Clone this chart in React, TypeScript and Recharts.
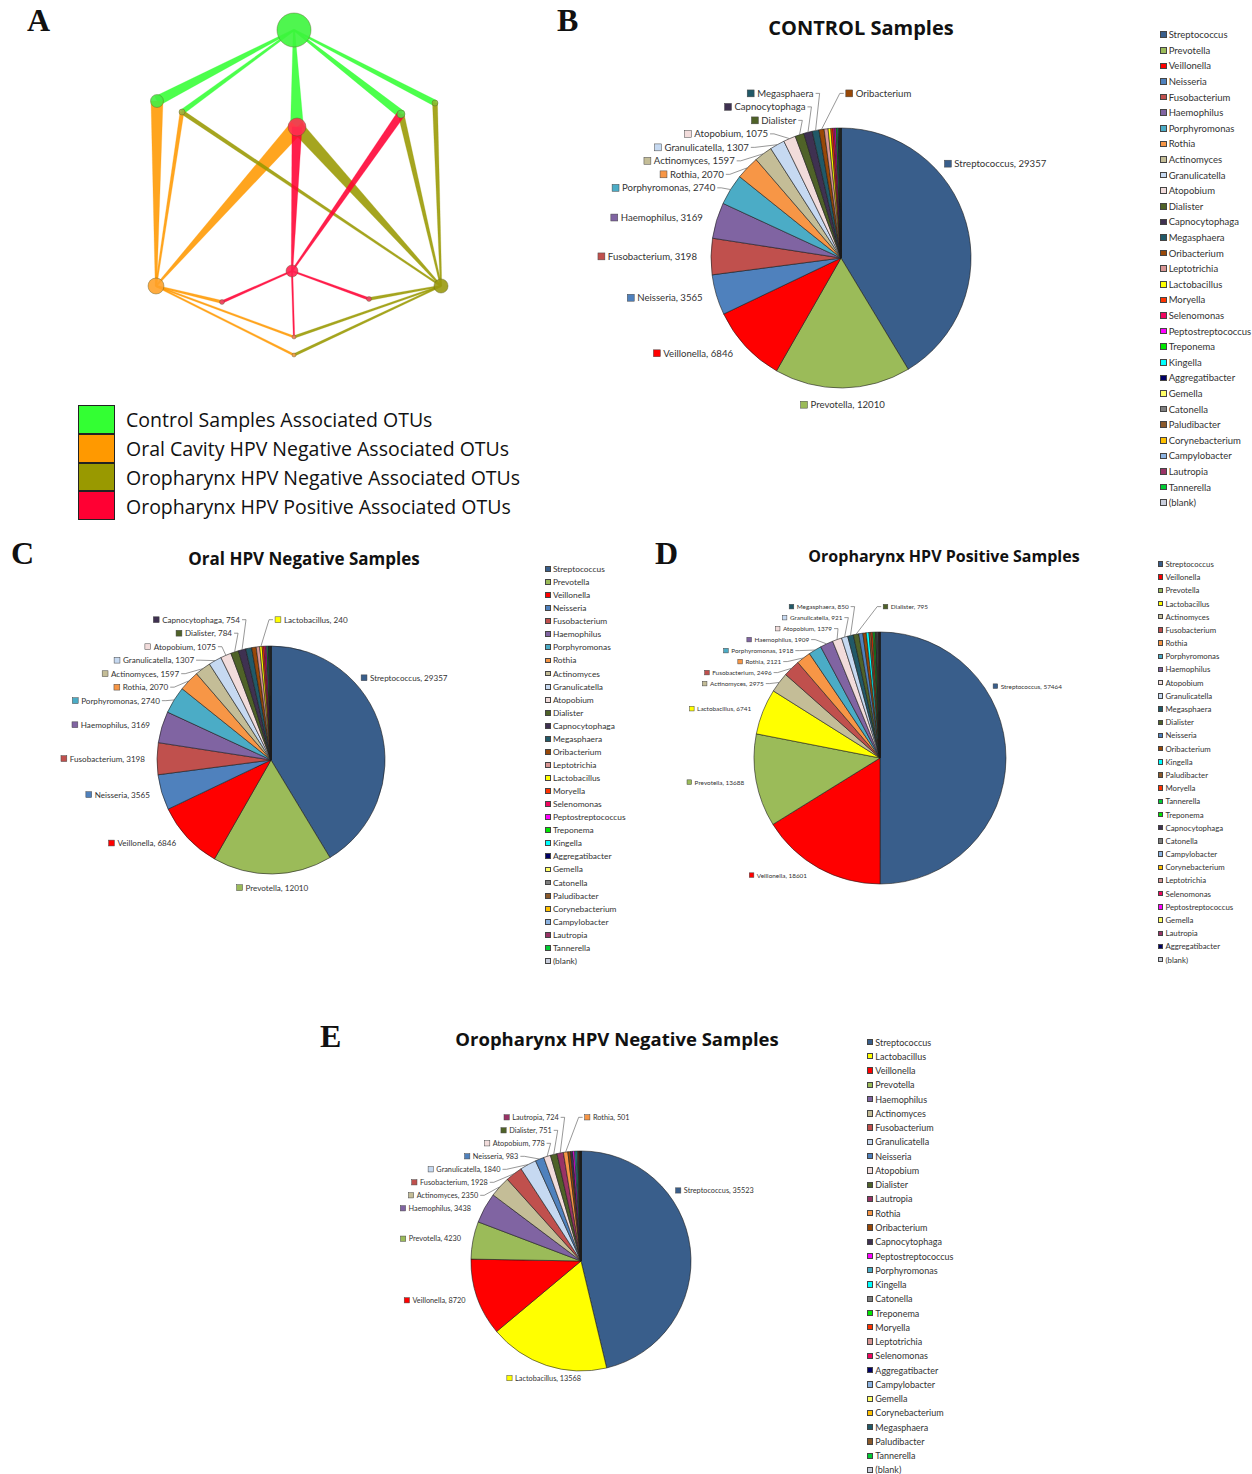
import React from "react";
import {
  PieChart,
  Pie,
  Cell,
  Legend,
  ScatterChart,
  Scatter,
  XAxis,
  YAxis,
  ReferenceLine,
} from "recharts";

// ---------------- pie data ----------------
const controlGenera = [
  "Streptococcus", "Prevotella", "Veillonella", "Neisseria", "Fusobacterium",
  "Haemophilus", "Porphyromonas", "Rothia", "Actinomyces", "Granulicatella",
  "Atopobium", "Dialister", "Capnocytophaga", "Megasphaera", "Oribacterium",
  "Leptotrichia", "Lactobacillus", "Moryella", "Selenomonas", "Peptostreptococcus",
  "Treponema", "Kingella", "Aggregatibacter", "Gemella", "Catonella",
  "Paludibacter", "Corynebacterium", "Campylobacter", "Lautropia", "Tannerella",
  "(blank)",
];
const controlCounts = [
  29357, 12010, 6846, 3565, 3198, 3169, 2740, 2070, 1597, 1307, 1075, 784, 754,
  600, 450, 350, 240, 180, 150, 120, 100, 80, 60, 50, 40, 30, 25, 20, 15, 10, 5,
];
const controlLabelled = [
  "Streptococcus", "Prevotella", "Veillonella", "Neisseria", "Fusobacterium",
  "Haemophilus", "Porphyromonas", "Rothia", "Actinomyces", "Granulicatella",
  "Atopobium", "Dialister", "Capnocytophaga", "Megasphaera", "Oribacterium",
];
const controlNameOnly = ["Dialister", "Capnocytophaga", "Megasphaera", "Oribacterium"];

const oralNegGenera = controlGenera;
const oralNegCounts = [
  29357, 12010, 6846, 3565, 3198, 3169, 2740, 2070, 1597, 1307, 1075, 784, 754,
  600, 450, 350, 240, 180, 150, 120, 100, 80, 60, 50, 40, 30, 25, 20, 15, 10, 5,
];
const oralNegLabelled = [
  "Streptococcus", "Prevotella", "Veillonella", "Neisseria", "Fusobacterium",
  "Haemophilus", "Porphyromonas", "Rothia", "Actinomyces", "Granulicatella",
  "Atopobium", "Dialister", "Capnocytophaga", "Lactobacillus",
];

const oroPosGenera = [
  "Streptococcus", "Veillonella", "Prevotella", "Lactobacillus", "Actinomyces",
  "Fusobacterium", "Rothia", "Porphyromonas", "Haemophilus", "Atopobium",
  "Granulicatella", "Megasphaera", "Dialister", "Neisseria", "Oribacterium",
  "Kingella", "Paludibacter", "Moryella", "Tannerella", "Treponema",
  "Capnocytophaga", "Catonella", "Campylobacter", "Corynebacterium", "Leptotrichia",
  "Selenomonas", "Peptostreptococcus", "Gemella", "Lautropia", "Aggregatibacter",
  "(blank)",
];
const oroPosCounts = [
  57464, 18601, 13688, 6741, 2975, 2496, 2121, 1918, 1909, 1379, 921, 850, 795,
  600, 500, 400, 300, 250, 200, 180, 150, 120, 100, 80, 60, 50, 40, 30, 20, 15, 10,
];
const oroPosLabelled = oroPosGenera.slice(0, 13);

const oroNegGenera = [
  "Streptococcus", "Lactobacillus", "Veillonella", "Prevotella", "Haemophilus",
  "Actinomyces", "Fusobacterium", "Granulicatella", "Neisseria", "Atopobium",
  "Dialister", "Lautropia", "Rothia", "Oribacterium", "Capnocytophaga",
  "Peptostreptococcus", "Porphyromonas", "Kingella", "Catonella", "Treponema",
  "Moryella", "Leptotrichia", "Selenomonas", "Aggregatibacter", "Campylobacter",
  "Gemella", "Corynebacterium", "Megasphaera", "Paludibacter", "Tannerella",
  "(blank)",
];
const oroNegCounts = [
  35523, 13568, 8720, 4230, 3438, 2350, 1928, 1840, 983, 778, 751, 724, 501,
  300, 250, 200, 150, 120, 100, 80, 60, 50, 40, 30, 25, 20, 15, 10, 8, 5, 3,
];
const oroNegLabelled = oroNegGenera.slice(0, 13);

// ---------------- network data (panel A) ----------------
const netNodes = [
  { id: "control", x: 164, y: 30, weight: 290 },
  { id: "oral", x: 26, y: 286, weight: 64 },
  { id: "oroNeg", x: 311, y: 286, weight: 50 },
  { id: "oroPos", x: 162, y: 271, weight: 36 },
  { id: "otu1", x: 27, y: 101, weight: 42 },
  { id: "otu2", x: 52, y: 112, weight: 9 },
  { id: "otu3", x: 167, y: 127, weight: 81 },
  { id: "otu4", x: 271, y: 114, weight: 16 },
  { id: "otu5", x: 305, y: 103, weight: 9 },
  { id: "otu6", x: 92, y: 302, weight: 6 },
  { id: "otu7", x: 239, y: 299, weight: 6 },
  { id: "otu8", x: 164, y: 337, weight: 4 },
  { id: "otu9", x: 164, y: 355, weight: 4 },
];
const netEdges = [
  { from: "control", to: "otu1", w: 10 },
  { from: "control", to: "otu2", w: 5 },
  { from: "control", to: "otu3", w: 13 },
  { from: "control", to: "otu4", w: 8 },
  { from: "control", to: "otu5", w: 6 },
  { from: "oral", to: "otu1", w: 12 },
  { from: "oral", to: "otu2", w: 4 },
  { from: "oral", to: "otu3", w: 15 },
  { from: "oral", to: "otu6", w: 3 },
  { from: "oral", to: "otu8", w: 2 },
  { from: "oral", to: "otu9", w: 2 },
  { from: "oroNeg", to: "otu2", w: 4 },
  { from: "oroNeg", to: "otu3", w: 13 },
  { from: "oroNeg", to: "otu4", w: 6 },
  { from: "oroNeg", to: "otu5", w: 5 },
  { from: "oroNeg", to: "otu7", w: 3 },
  { from: "oroNeg", to: "otu8", w: 2.5 },
  { from: "oroNeg", to: "otu9", w: 2.5 },
  { from: "oroPos", to: "otu3", w: 10 },
  { from: "oroPos", to: "otu4", w: 8 },
  { from: "oroPos", to: "otu6", w: 2.5 },
  { from: "oroPos", to: "otu7", w: 2.5 },
  { from: "oroPos", to: "otu8", w: 1.5 },
];
const netLegend = [
  { group: "control", text: "Control Samples Associated OTUs" },
  { group: "oral", text: "Oral Cavity HPV Negative Associated OTUs" },
  { group: "oroNeg", text: "Oropharynx HPV Negative Associated OTUs" },
  { group: "oroPos", text: "Oropharynx HPV Positive Associated OTUs" },
];

// ---------------- styles ----------------
const GENUS_COLORS: Record<string, string> = {
  Streptococcus: "#395E8B",
  Prevotella: "#9BBB59",
  Veillonella: "#FF0000",
  Neisseria: "#4F81BD",
  Fusobacterium: "#C0504D",
  Haemophilus: "#8064A2",
  Porphyromonas: "#4BACC6",
  Rothia: "#F79646",
  Actinomyces: "#C4BD97",
  Granulicatella: "#C6D9F1",
  Atopobium: "#F2DCDB",
  Dialister: "#4F6228",
  Capnocytophaga: "#3F3151",
  Megasphaera: "#215968",
  Oribacterium: "#984807",
  Leptotrichia: "#D99694",
  Lactobacillus: "#FFFF00",
  Moryella: "#FF3300",
  Selenomonas: "#F0065F",
  Peptostreptococcus: "#FF00FF",
  Treponema: "#00E600",
  Kingella: "#00FFFF",
  Aggregatibacter: "#000066",
  Gemella: "#FFFF66",
  Catonella: "#7F7F7F",
  Paludibacter: "#8B5A2B",
  Corynebacterium: "#FFC000",
  Campylobacter: "#8DB4E2",
  Lautropia: "#993366",
  Tannerella: "#00CC33",
  "(blank)": "#C9CEDC",
};
const GROUP_COLORS: Record<string, string> = {
  control: "#33FF33",
  oral: "#FF9900",
  oroNeg: "#999900",
  oroPos: "#FF0033",
};
const NODE_COLORS: Record<string, string> = {
  control: "#3CF53C",
  oral: "#FFA22A",
  oroNeg: "#9A9A10",
  oroPos: "#FF2050",
  otu1: "#44EE44",
  otu2: "#A0B040",
  otu3: "#FF3050",
  otu4: "#55DD44",
  otu5: "#88BB30",
  otu6: "#EE4466",
  otu7: "#EE4466",
  otu8: "#F08060",
  otu9: "#F0A050",
};

const LABEL_FONT = "Lato, 'Open Sans', sans-serif";
const TITLE_FONT = "'Open Sans', sans-serif";
const LETTER_FONT = "'Liberation Serif', 'DejaVu Serif', serif";
const RAD = Math.PI / 180;

type PanelCfg = {
  title: string;
  letter: string;
  genera: string[];
  counts: number[];
  labelled: string[];
  nameOnly: string[];
  left: number;
  top: number;
  width: number;
  height: number;
  cx: number;
  cy: number;
  r: number;
  labelFont: number;
  labelGap: number;
  labelSpacing: number;
  legendLeft: number;
  legendTop: number;
  legendRow: number;
  legendFont: number;
  titleX: number;
  titleY: number;
  titleSize: number;
  letterX: number;
  letterY: number;
};

const panels: PanelCfg[] = [
  {
    title: "CONTROL Samples", letter: "B",
    genera: controlGenera, counts: controlCounts, labelled: controlLabelled, nameOnly: controlNameOnly,
    left: 560, top: 0, width: 692, height: 530, cx: 281, cy: 258, r: 130,
    labelFont: 9.6, labelGap: 10, labelSpacing: 13.5,
    legendLeft: 600, legendTop: 27, legendRow: 15.6, legendFont: 9.5,
    titleX: 861, titleY: 27, titleSize: 20, letterX: 557, letterY: 4,
  },
  {
    title: "Oral HPV Negative Samples", letter: "C",
    genera: oralNegGenera, counts: oralNegCounts, labelled: oralNegLabelled, nameOnly: [],
    left: 0, top: 540, width: 660, height: 440, cx: 271, cy: 220, r: 114,
    labelFont: 8.1, labelGap: 8, labelSpacing: 13.5,
    legendLeft: 545, legendTop: 22.5, legendRow: 13.07, legendFont: 8.4,
    titleX: 304, titleY: 558, titleSize: 17, letterX: 11, letterY: 537,
  },
  {
    title: "Oropharynx HPV Positive Samples", letter: "D",
    genera: oroPosGenera, counts: oroPosCounts, labelled: oroPosLabelled, nameOnly: [],
    left: 640, top: 540, width: 612, height: 440, cx: 240, cy: 218, r: 126,
    labelFont: 6.4, labelGap: 8, labelSpacing: 11,
    legendLeft: 518, legendTop: 17.4, legendRow: 13.2, legendFont: 7.8,
    titleX: 944, titleY: 556, titleSize: 16, letterX: 655, letterY: 537,
  },
  {
    title: "Oropharynx HPV Negative Samples", letter: "E",
    genera: oroNegGenera, counts: oroNegCounts, labelled: oroNegLabelled, nameOnly: [],
    left: 300, top: 1020, width: 700, height: 454, cx: 281, cy: 241, r: 110,
    labelFont: 7.3, labelGap: 8, labelSpacing: 13,
    legendLeft: 567, legendTop: 14.9, legendRow: 14.27, legendFont: 9,
    titleX: 617, titleY: 1038, titleSize: 18.5, letterX: 320, letterY: 1020,
  },
];

// ---------------- helpers ----------------
let measureCtx: CanvasRenderingContext2D | null = null;
function textWidth(text: string, size: number) {
  if (!measureCtx && typeof document !== "undefined") {
    measureCtx = document.createElement("canvas").getContext("2d");
  }
  if (!measureCtx) return text.length * size * 0.5;
  measureCtx.font = `${size}px ${LABEL_FONT}`;
  return measureCtx.measureText(text).width;
}

type LabelPos = { x: number; y: number; side: string; leader: boolean; text: string };

function relax(items: LabelPos[], spacing: number) {
  items.sort((a, b) => a.y - b.y);
  for (let it = 0; it < 300; it++) {
    let moved = false;
    for (let k = 0; k < items.length - 1; k++) {
      const a = items[k];
      const b = items[k + 1];
      const d = b.y - a.y;
      if (d < spacing - 0.01) {
        const s = (spacing - d) / 2;
        a.y -= s;
        b.y += s;
        moved = true;
      }
    }
    if (!moved) break;
  }
}

// label placement, Excel style: outside end, stacked when crowded
function layoutLabels(cfg: PanelCfg) {
  const total = cfg.counts.reduce((s, v) => s + v, 0);
  const lastIdx = Math.max(...cfg.labelled.map((n) => cfg.genera.indexOf(n)));
  const out: Record<number, LabelPos> = {};
  const list: LabelPos[] = [];
  const d = cfg.r + cfg.labelGap;
  let cum = 0;
  cfg.counts.forEach((v, i) => {
    const start = (cum / total) * 360;
    const span = (v / total) * 360;
    cum += v;
    const name = cfg.genera[i];
    if (!cfg.labelled.includes(name)) return;
    const frac = v / total;
    const la = frac > 0.35 ? start + 0.32 * span : start + span / 2;
    const x = d * Math.sin(la * RAD);
    let y = -d * Math.cos(la * RAD);
    let side = la < 180 ? "right" : "left";
    if (la > 160 && la < 200) {
      side = "bottom";
      y += cfg.labelFont * 0.7;
    }
    if (i === lastIdx) side = "top";
    const text = cfg.nameOnly.includes(name) ? name : `${name}, ${v}`;
    const pos = { x, y, side, leader: frac < 0.04, text };
    out[i] = pos;
    list.push(pos);
  });
  const left = list.filter((p) => p.side === "left");
  relax(left, cfg.labelSpacing);
  relax(list.filter((p) => p.side === "right"), cfg.labelSpacing);
  // keep stacked labels clear of the pie
  const clear = d + 4;
  left.forEach((p) => {
    if (Math.abs(p.y) < clear) p.x = Math.min(p.x, -Math.sqrt(clear * clear - p.y * p.y));
  });
  const topMost = left.length ? Math.min(...left.map((p) => p.y)) : -cfg.r - 20;
  list
    .filter((p) => p.side === "top")
    .forEach((p) => {
      p.x = cfg.labelFont * 0.5;
      p.y = topMost;
      p.side = "right";
      p.leader = true;
    });
  return out;
}

function renderPieLabel(p: any, cfg: PanelCfg, layout: Record<number, LabelPos>) {
  const l = layout[p.index];
  if (!l) return null;
  const f = cfg.labelFont;
  const box = f * 0.72;
  const w = textWidth(l.text, f);
  const x = p.cx + l.x;
  const y = p.cy + l.y;
  let boxX: number;
  let textX: number;
  if (l.side === "left") {
    textX = x - w;
    boxX = textX - box - 3;
  } else if (l.side === "right") {
    boxX = x;
    textX = x + box + 3;
  } else {
    boxX = x - (box + 3 + w) / 2;
    textX = boxX + box + 3;
  }
  let line = null;
  if (l.leader) {
    const ex = p.cx + p.outerRadius * Math.cos(-p.midAngle * RAD);
    const ey = p.cy + p.outerRadius * Math.sin(-p.midAngle * RAD);
    const ax = l.side === "left" ? x + 2 : boxX - 2;
    const stub = l.side === "left" ? ax + 4 : ax - 4;
    line = (
      <polyline
        points={`${ex},${ey} ${stub},${y} ${ax},${y}`}
        fill="none"
        stroke="#6b6b6b"
        strokeWidth={0.7}
      />
    );
  }
  return (
    <g key={`lbl-${p.index}`}>
      {line}
      <rect
        x={boxX}
        y={y - box / 2}
        width={box}
        height={box}
        fill={GENUS_COLORS[cfg.genera[p.index]]}
        stroke="#444"
        strokeWidth={0.5}
      />
      <text
        x={textX}
        y={y}
        dominantBaseline="central"
        fontSize={f}
        fontFamily={LABEL_FONT}
        fill="#333"
      >
        {l.text}
      </text>
    </g>
  );
}

function GenusLegend({ cfg }: { cfg: PanelCfg }) {
  const box = cfg.legendFont * 0.7;
  return (
    <div style={{ fontFamily: LABEL_FONT, fontSize: cfg.legendFont, color: "#333" }}>
      {cfg.genera.map((g) => (
        <div
          key={g}
          style={{ height: cfg.legendRow, display: "flex", alignItems: "center", whiteSpace: "nowrap" }}
        >
          <span
            style={{
              display: "inline-block",
              width: box,
              height: box,
              background: GENUS_COLORS[g],
              border: "0.5px solid #444",
              boxSizing: "border-box",
              marginRight: 2,
            }}
          />
          {g}
        </div>
      ))}
    </div>
  );
}

function PiePanel({ cfg }: { cfg: PanelCfg }) {
  const data = cfg.genera.map((g, i) => ({ name: g, value: cfg.counts[i] }));
  const layout = layoutLabels(cfg);
  return (
    <>
      <div style={{ position: "absolute", left: cfg.left, top: cfg.top }}>
        <PieChart width={cfg.width} height={cfg.height} margin={{ top: 0, right: 0, bottom: 0, left: 0 }}>
          <Pie
            data={data}
            dataKey="value"
            nameKey="name"
            cx={cfg.cx}
            cy={cfg.cy}
            outerRadius={cfg.r}
            startAngle={90}
            endAngle={-270}
            stroke="#1c1c1c"
            strokeWidth={0.6}
            labelLine={false}
            label={(p: any) => renderPieLabel(p, cfg, layout)}
            isAnimationActive={false}
          >
            {data.map((d) => (
              <Cell key={d.name} fill={GENUS_COLORS[d.name]} />
            ))}
          </Pie>
          <Legend
            layout="vertical"
            align="right"
            verticalAlign="top"
            wrapperStyle={{ left: cfg.legendLeft, top: cfg.legendTop, width: 120 }}
            content={() => <GenusLegend cfg={cfg} />}
          />
        </PieChart>
      </div>
      <div
        style={{
          position: "absolute",
          left: cfg.titleX,
          top: cfg.titleY,
          transform: "translate(-50%, -50%)",
          fontFamily: TITLE_FONT,
          fontWeight: 700,
          fontSize: cfg.titleSize,
          whiteSpace: "nowrap",
          color: "#111",
        }}
      >
        {cfg.title}
      </div>
      <PanelLetter letter={cfg.letter} x={cfg.letterX} y={cfg.letterY} />
    </>
  );
}

function PanelLetter({ letter, x, y }: { letter: string; x: number; y: number }) {
  return (
    <div
      style={{
        position: "absolute",
        left: x,
        top: y,
        fontFamily: LETTER_FONT,
        fontWeight: 700,
        fontSize: 32,
        lineHeight: "32px",
        color: "#111",
      }}
    >
      {letter}
    </div>
  );
}

function Wedge(props: any) {
  const { x1, y1, x2, y2, w, color } = props;
  const dx = x2 - x1;
  const dy = y2 - y1;
  const len = Math.sqrt(dx * dx + dy * dy) || 1;
  const nx = -dy / len;
  const ny = dx / len;
  const tip = 0.8;
  const pts = [
    [x1 + nx * tip, y1 + ny * tip],
    [x2 + (nx * w) / 2, y2 + (ny * w) / 2],
    [x2 - (nx * w) / 2, y2 - (ny * w) / 2],
    [x1 - nx * tip, y1 - ny * tip],
  ]
    .map((p) => p.join(","))
    .join(" ");
  return <polygon points={pts} fill={color} fillOpacity={0.88} stroke={color} strokeOpacity={0.6} strokeWidth={0.4} />;
}

const nodeById: Record<string, { x: number; y: number }> = {};
netNodes.forEach((n) => (nodeById[n.id] = n));

function NetworkPanel() {
  return (
    <>
      <div style={{ position: "absolute", left: 130, top: 0 }}>
        <ScatterChart width={340} height={370} margin={{ top: 0, right: 0, bottom: 0, left: 0 }}>
          <XAxis type="number" dataKey="x" domain={[0, 340]} hide />
          <YAxis type="number" dataKey="y" domain={[0, 370]} reversed hide />
          {netEdges.map((e, i) => {
            const s = nodeById[e.from];
            const t = nodeById[e.to];
            return (
              <ReferenceLine
                key={i}
                segment={[
                  { x: s.x, y: s.y },
                  { x: t.x, y: t.y },
                ]}
                ifOverflow="visible"
                shape={(p: any) => <Wedge {...p} w={e.w} color={GROUP_COLORS[e.from]} />}
              />
            );
          })}
          <Scatter
            data={netNodes}
            isAnimationActive={false}
            shape={(p: any) => (
              <circle
                cx={p.cx}
                cy={p.cy}
                r={Math.sqrt(p.payload.weight)}
                fill={NODE_COLORS[p.payload.id]}
                fillOpacity={0.9}
                stroke="#5a5a2a"
                strokeOpacity={0.5}
                strokeWidth={0.8}
              />
            )}
          />
        </ScatterChart>
      </div>
      <PanelLetter letter="A" x={27} y={4} />
      {netLegend.map((l, i) => (
        <React.Fragment key={l.group}>
          <div
            style={{
              position: "absolute",
              left: 78,
              top: 405 + i * 28.75,
              width: 37,
              height: 28.75,
              background: GROUP_COLORS[l.group],
              border: "1px solid #222",
              boxSizing: "border-box",
            }}
          />
          <div
            style={{
              position: "absolute",
              left: 126,
              top: 405 + i * 28.75 + 14.4,
              transform: "translateY(-50%)",
              fontFamily: TITLE_FONT,
              fontSize: 19.5,
              whiteSpace: "nowrap",
              color: "#111",
            }}
          >
            {l.text}
          </div>
        </React.Fragment>
      ))}
    </>
  );
}

export default function App() {
  return (
    <div
      style={{
        position: "absolute",
        left: 0,
        top: 0,
        width: 1252,
        height: 1474,
        background: "#fff",
        overflow: "hidden",
      }}
    >
      <NetworkPanel />
      {panels.map((cfg) => (
        <PiePanel key={cfg.letter} cfg={cfg} />
      ))}
    </div>
  );
}
